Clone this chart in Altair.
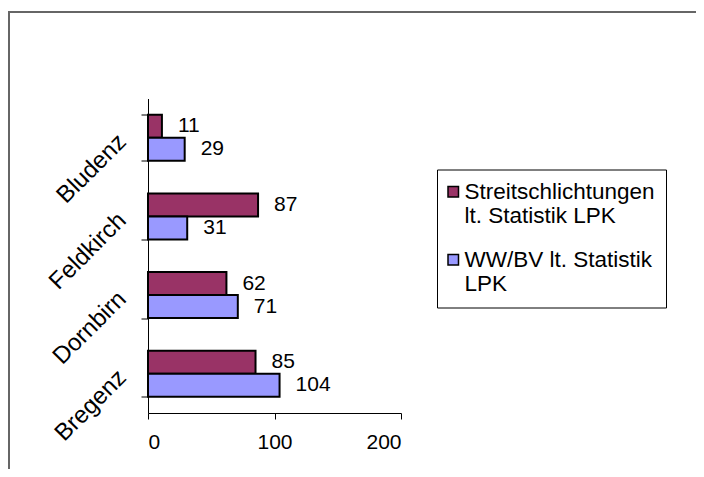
import json
import altair as alt
import pandas as pd

cities = ["Bludenz", "Feldkirch", "Dornbirn", "Bregenz"]
streit = [11, 87, 62, 85]
wwbv = [29, 31, 71, 104]
series = ["Streitschlichtungen lt. Statistik LPK", "WW/BV lt. Statistik LPK"]
series_lines = [["Streitschlichtungen", "lt. Statistik LPK"], ["WW/BV lt. Statistik", "LPK"]]
colors = ["#993366", "#9999FF"]
x_ticks = [0, 100, 200]

rows = []
for c, a, b in zip(cities, streit, wwbv):
    rows.append({"city": c, "series": series[0], "value": a})
    rows.append({"city": c, "series": series[1], "value": b})
df = pd.DataFrame(rows)

FONT = "Liberation Sans"
FS = 21

label_expr = "datum.label == {} ? {} : {}".format(
    json.dumps(series[0]), json.dumps(series_lines[0]), json.dumps(series_lines[1])
)

y_enc = alt.Y(
    "city:N",
    sort=cities,
    scale=alt.Scale(paddingInner=0.415, paddingOuter=0.2075),
    axis=alt.Axis(
        title=None, labelAngle=-45, labelAlign="right", labelBaseline="middle",
        tickBand="extent", tickSize=7, labelPadding=19, labelOffset=0,
        labelFont=FONT, labelFontSize=24, labelColor="black",
        domainColor="black", tickColor="black", grid=False,
    ),
)
x_enc = alt.X(
    "value:Q",
    scale=alt.Scale(domain=[0, 200], nice=False),
    axis=alt.Axis(
        title=None, values=x_ticks, grid=False, tickSize=6, labelPadding=12,
        labelFont=FONT, labelFontSize=FS, labelColor="black",
        domainColor="black", tickColor="black",
    ),
)
yoff = alt.YOffset("series:N", sort=series, scale=alt.Scale(paddingInner=0, paddingOuter=0))

bars = alt.Chart(df).mark_bar(stroke="black", strokeWidth=2).encode(
    x=x_enc,
    y=y_enc,
    yOffset=yoff,
    color=alt.Color(
        "series:N",
        sort=series,
        scale=alt.Scale(domain=series, range=colors),
        legend=alt.Legend(
            orient="none", legendX=289, legendY=71, title=None,
            labelExpr=label_expr, labelFont=FONT, labelFontSize=22.5, labelColor="black",
            labelLimit=400, labelOffset=0, symbolType="square", symbolSize=110,
            symbolOffset=-6,
            symbolStrokeColor="black", symbolStrokeWidth=1.5,
            strokeColor="black", fillColor="white", padding=11, rowPadding=20,
        ),
    ),
)

labels = alt.Chart(df).mark_text(
    align="left", baseline="middle", dx=16, font=FONT, fontSize=FS, color="black"
).encode(
    x="value:Q",
    y=alt.Y("city:N", sort=cities),
    yOffset=alt.YOffset("series:N", sort=series),
    text="value:Q",
)

frame_top = alt.Chart(alt.Data(values=[{}])).mark_rule(
    stroke="#666666", strokeWidth=2
).encode(x=alt.value(-140), x2=alt.value(548), y=alt.value(-86.5))

frame_left = alt.Chart(alt.Data(values=[{}])).mark_rule(
    stroke="#666666", strokeWidth=2
).encode(x=alt.value(-139), y=alt.value(-87.5), y2=alt.value(370.5))

chart = alt.layer(frame_top, frame_left, bars, labels).properties(
    width=253,
    height=314.5,
    autosize=alt.AutoSizeParams(type="none"),
    padding={"left": 140, "top": 90.5, "right": 295, "bottom": 56},
).configure_view(stroke=None)

chart.save("out.html", embed_options={"renderer": "svg", "actions": False})
